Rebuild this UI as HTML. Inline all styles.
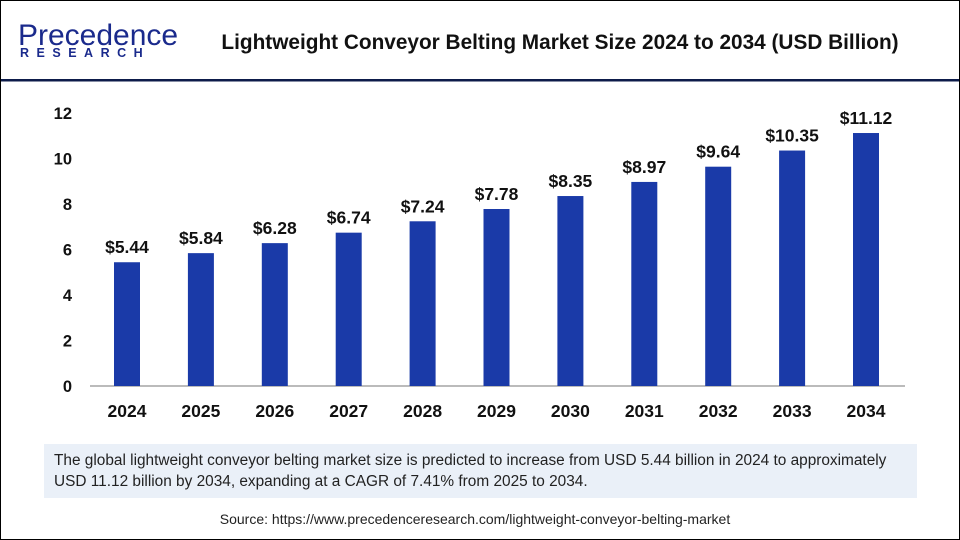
<!DOCTYPE html>
<html><head><meta charset="utf-8"><style>
body{margin:0;width:960px;height:540px;overflow:hidden;background:#fff;font-family:"Liberation Sans",sans-serif}
#frame{position:absolute;left:0;top:0;width:958px;height:538px;border:1px solid #000}
</style></head><body>
<div id="frame"></div>
<svg width="960" height="540" style="position:absolute;left:0;top:0">
<g>
<text x="18" y="45" font-size="30" fill="#1a2a8c" font-family="Liberation Sans">Precedence</text>
<text x="20" y="57" font-size="12.5" font-weight="bold" fill="#1a2a8c" letter-spacing="7.5">RESEARCH</text>
</g>
<text x="560" y="49" text-anchor="middle" font-size="20.8" font-weight="bold" fill="#111">Lightweight Conveyor Belting Market Size 2024 to 2034 (USD Billion)</text>
<rect x="1" y="79" width="958" height="2.5" fill="#0d1b4a"/>
<g id="grid"></g><g id="bars"></g><g id="labels"></g>
<rect x="44" y="444" width="873" height="54" fill="#eaf0f8"/>
<text x="54" y="465" font-size="15.4" fill="#222">The global lightweight conveyor belting market size is predicted to increase from USD 5.44 billion in 2024 to approximately</text>
<text x="54" y="486" font-size="15.4" fill="#222">USD 11.12 billion by 2034, expanding at a CAGR of 7.41% from 2025 to 2034.</text>
<text x="475" y="524" text-anchor="middle" font-size="14" fill="#222">Source: https://www.precedenceresearch.com/lightweight-conveyor-belting-market</text>
</svg>
<script>
const categories=["2024","2025","2026","2027","2028","2029","2030","2031","2032","2033","2034"];
const values=[5.44,5.84,6.28,6.74,7.24,7.78,8.35,8.97,9.64,10.35,11.12];
const valueLabels=["$5.44","$5.84","$6.28","$6.74","$7.24","$7.78","$8.35","$8.97","$9.64","$10.35","$11.12"];
const yTicks=[0,2,4,6,8,10,12];
const NS="http://www.w3.org/2000/svg";
const y=v=>386-v*(273/12);
const x=i=>127+i*73.9;
function mk(t,a,p){const e=document.createElementNS(NS,t);for(const k in a)e.setAttribute(k,a[k]);document.getElementById(p).appendChild(e);return e;}
yTicks.forEach(t=>{
 if(t===0){
 const l=mk('line',{x1:90,x2:905,y1:y(t),y2:y(t),stroke:'#bbb','stroke-width':2},'grid');
 
 
 }
 const tx=mk('text',{x:72,y:y(t)+6,'text-anchor':'end','font-size':16.5,'font-weight':'bold',fill:'#111'},'labels');
 tx.textContent=t;
 
 
});
categories.forEach((c,i)=>{
 const b=mk('rect',{x:x(i)-13,y:y(values[i]),width:26,height:y(0)-y(values[i]),fill:'#1a3aa8'},'bars');
 
 
 const v=mk('text',{x:x(i),y:y(values[i])-9,'text-anchor':'middle','font-size':17.5,'font-weight':'bold',fill:'#111'},'labels');
 v.textContent=valueLabels[i];
 
 
 const xl=mk('text',{x:x(i),y:417,'text-anchor':'middle','font-size':17.5,'font-weight':'bold',fill:'#111'},'labels');
 xl.textContent=c;
 
 
});
</script>
</body></html>
